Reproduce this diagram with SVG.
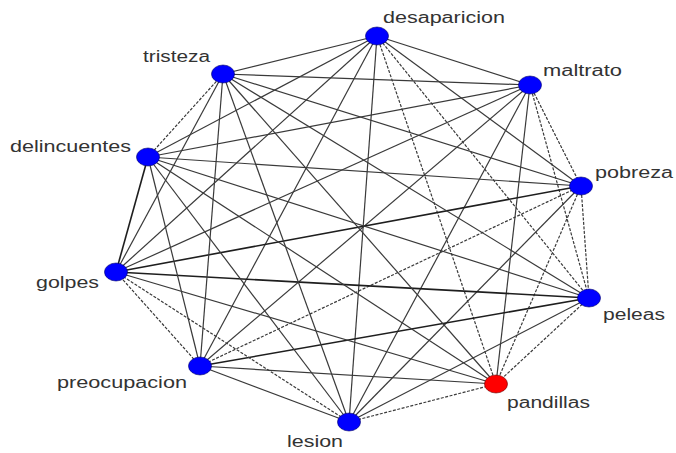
<svg xmlns="http://www.w3.org/2000/svg" width="676" height="453" viewBox="0 0 676 453">
<style>
.e{stroke:#3a3a3a;stroke-width:1.2;fill:none}
.d{stroke:#3a3a3a;stroke-width:1.2;fill:none;stroke-dasharray:3 1.5}
.t{stroke:#1e1e1e;stroke-width:1.6;fill:none}
.n{fill:#0000ff;stroke:#000066;stroke-width:0.6}
.r{fill:#ff0000;stroke:#660000;stroke-width:0.6}
.l{font-family:"Liberation Sans",Arial,sans-serif;font-size:16px;fill:#333}
</style>
<rect width="676" height="453" fill="#fff"/>
<g id="edges">
<line class="e" x1="377" y1="36" x2="530" y2="85"/>
<line class="e" x1="377" y1="36" x2="581" y2="186"/>
<line class="d" x1="377" y1="36" x2="589" y2="298"/>
<line class="d" x1="377" y1="36" x2="496" y2="384"/>
<line class="e" x1="377" y1="36" x2="349" y2="422"/>
<line class="e" x1="377" y1="36" x2="200" y2="366"/>
<line class="e" x1="377" y1="36" x2="116" y2="272"/>
<line class="e" x1="377" y1="36" x2="148" y2="157"/>
<line class="e" x1="377" y1="36" x2="223" y2="74"/>
<line class="d" x1="530" y1="85" x2="581" y2="186"/>
<line class="d" x1="530" y1="85" x2="589" y2="298"/>
<line class="e" x1="530" y1="85" x2="496" y2="384"/>
<line class="e" x1="530" y1="85" x2="349" y2="422"/>
<line class="e" x1="530" y1="85" x2="200" y2="366"/>
<line class="e" x1="530" y1="85" x2="116" y2="272"/>
<line class="e" x1="530" y1="85" x2="148" y2="157"/>
<line class="e" x1="530" y1="85" x2="223" y2="74"/>
<line class="d" x1="581" y1="186" x2="589" y2="298"/>
<line class="d" x1="581" y1="186" x2="496" y2="384"/>
<line class="e" x1="581" y1="186" x2="349" y2="422"/>
<line class="d" x1="581" y1="186" x2="200" y2="366"/>
<line class="t" x1="581" y1="186" x2="116" y2="272"/>
<line class="e" x1="581" y1="186" x2="148" y2="157"/>
<line class="e" x1="581" y1="186" x2="223" y2="74"/>
<line class="d" x1="589" y1="298" x2="496" y2="384"/>
<line class="e" x1="589" y1="298" x2="349" y2="422"/>
<line class="t" x1="589" y1="298" x2="200" y2="366"/>
<line class="t" x1="589" y1="298" x2="116" y2="272"/>
<line class="e" x1="589" y1="298" x2="148" y2="157"/>
<line class="e" x1="589" y1="298" x2="223" y2="74"/>
<line class="d" x1="496" y1="384" x2="349" y2="422"/>
<line class="e" x1="496" y1="384" x2="200" y2="366"/>
<line class="e" x1="496" y1="384" x2="116" y2="272"/>
<line class="e" x1="496" y1="384" x2="148" y2="157"/>
<line class="e" x1="496" y1="384" x2="223" y2="74"/>
<line class="e" x1="349" y1="422" x2="200" y2="366"/>
<line class="d" x1="349" y1="422" x2="116" y2="272"/>
<line class="e" x1="349" y1="422" x2="148" y2="157"/>
<line class="e" x1="349" y1="422" x2="223" y2="74"/>
<line class="d" x1="200" y1="366" x2="116" y2="272"/>
<line class="e" x1="200" y1="366" x2="148" y2="157"/>
<line class="e" x1="200" y1="366" x2="223" y2="74"/>
<line class="t" x1="116" y1="272" x2="148" y2="157"/>
<line class="e" x1="116" y1="272" x2="223" y2="74"/>
<line class="d" x1="148" y1="157" x2="223" y2="74"/>
</g>
<g id="desaparicion"><ellipse class="n" cx="377" cy="36" rx="11.5" ry="9"/><text class="l" x="383" y="23" textLength="122" lengthAdjust="spacingAndGlyphs">desaparicion</text></g>
<g id="maltrato"><ellipse class="n" cx="530" cy="85" rx="11.5" ry="9"/><text class="l" x="543" y="76" textLength="79" lengthAdjust="spacingAndGlyphs">maltrato</text></g>
<g id="pobreza"><ellipse class="n" cx="581" cy="186" rx="11.5" ry="9"/><text class="l" x="595" y="178" textLength="78" lengthAdjust="spacingAndGlyphs">pobreza</text></g>
<g id="peleas"><ellipse class="n" cx="589" cy="298" rx="11.5" ry="9"/><text class="l" x="603" y="320" textLength="62" lengthAdjust="spacingAndGlyphs">peleas</text></g>
<g id="pandillas"><ellipse class="r" cx="496" cy="384" rx="11.5" ry="9"/><text class="l" x="507" y="408" textLength="83" lengthAdjust="spacingAndGlyphs">pandillas</text></g>
<g id="lesion"><ellipse class="n" cx="349" cy="422" rx="11.5" ry="9"/><text class="l" x="287" y="447" textLength="56" lengthAdjust="spacingAndGlyphs">lesion</text></g>
<g id="preocupacion"><ellipse class="n" cx="200" cy="366" rx="11.5" ry="9"/><text class="l" x="57" y="388" textLength="130" lengthAdjust="spacingAndGlyphs">preocupacion</text></g>
<g id="golpes"><ellipse class="n" cx="116" cy="272" rx="11.5" ry="9"/><text class="l" x="36" y="288" textLength="63" lengthAdjust="spacingAndGlyphs">golpes</text></g>
<g id="delincuentes"><ellipse class="n" cx="148" cy="157" rx="11.5" ry="9"/><text class="l" x="10" y="152" textLength="121" lengthAdjust="spacingAndGlyphs">delincuentes</text></g>
<g id="tristeza"><ellipse class="n" cx="223" cy="74" rx="11.5" ry="9"/><text class="l" x="143" y="62" textLength="67" lengthAdjust="spacingAndGlyphs">tristeza</text></g>
</svg>
